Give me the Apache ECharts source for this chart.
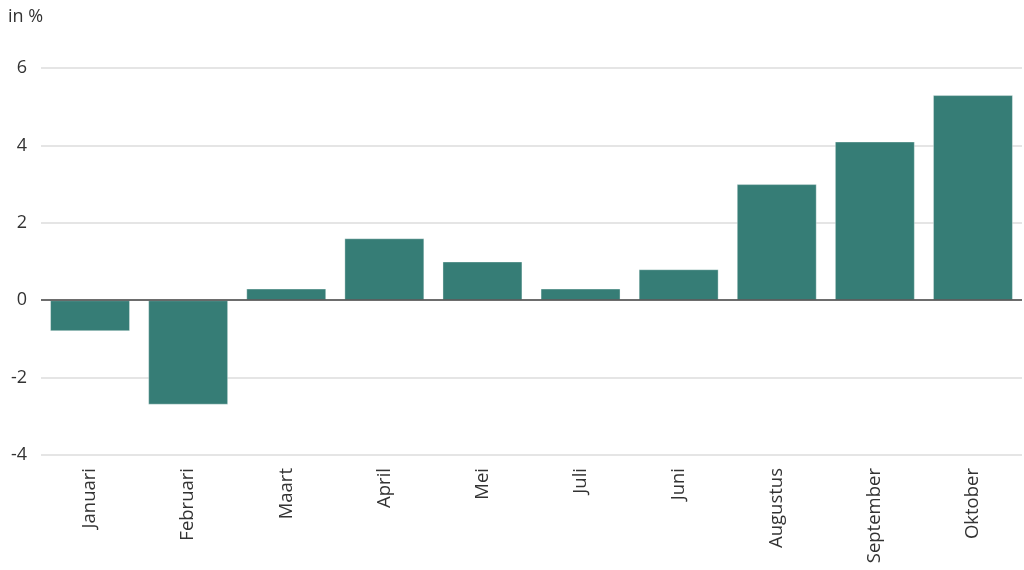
<!DOCTYPE html>
<html>
<head>
<meta charset="utf-8">
<script src="https://cdn.jsdelivr.net/npm/echarts@6/dist/echarts.min.js"></script>
<style>
html,body{margin:0;padding:0;background:#fff;}
#chart{width:1024px;height:570px;}
</style>
</head>
<body>
<div id="chart"></div>
<script>
const categories = ['Januari','Februari','Maart','April','Mei','Juli','Juni','Augustus','September','Oktober'];
const values = [-0.8, -2.7, 0.3, 1.6, 1.0, 0.3, 0.8, 3.0, 4.1, 5.3];
const yTicks = {min: -4, max: 6, interval: 2};
const unitLabel = 'in %';

const FONT = '"Open Sans"';
const chart = echarts.init(document.getElementById('chart'), null, {renderer: 'canvas'});
chart.setOption({
  animation: false,
  backgroundColor: '#ffffff',
  textStyle: {fontFamily: FONT},
  graphic: [{
    type: 'text', left: 8, top: 8,
    style: {text: unitLabel, fill: '#333', font: '18px "Open Sans"'}
  }],
  grid: {left: 41, right: 2, top: 68, bottom: 115, containLabel: false},
  xAxis: {
    type: 'category',
    data: categories,
    axisLine: {show: false, onZero: false},
    axisTick: {show: false},
    axisLabel: {rotate: 90, color: '#333', fontSize: 18.5, fontFamily: FONT, margin: 13, interval: 0}
  },
  yAxis: {
    type: 'value',
    min: yTicks.min, max: yTicks.max, interval: yTicks.interval,
    axisLine: {show: false},
    axisTick: {show: false},
    axisLabel: {color: '#333', fontSize: 18, fontFamily: FONT, margin: 14},
    splitLine: {lineStyle: {color: '#dcdcdc', width: 1.5}}
  },
  series: [{
    type: 'bar',
    data: values,
    barCategoryGap: '18.5%',
    itemStyle: {color: '#367d76', borderColor: 'rgba(255,255,255,0.35)', borderWidth: 1},
    markLine: {
      silent: true, symbol: 'none', label: {show: false},
      lineStyle: {color: '#444', width: 1.5, type: 'solid'},
      data: [{yAxis: 0}]
    }
  }]
});
</script>
</body>
</html>
